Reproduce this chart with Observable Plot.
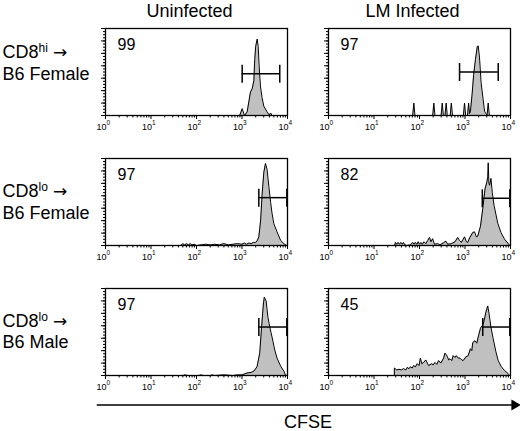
<!DOCTYPE html>
<html>
<head>
<meta charset="utf-8">
<script src="https://cdn.jsdelivr.net/npm/d3@7"></script>
<script src="https://cdn.jsdelivr.net/npm/@observablehq/plot@0.6"></script>
<style>
  body { margin: 0; background: #fff; }
  #chart { width: 520px; height: 431px; }
</style>
</head>
<body>
<div id="chart"></div>
<script>
// ---- categories ----
const columns = ["Uninfected", "LM Infected"];
const rowLabels = ["CD8hi →\nB6 Female", "CD8lo →\nB6 Female", "CD8lo →\nB6 Male"];

// ---- per-panel values (row-major: r1c1, r1c2, r2c1, r2c2, r3c1, r3c2) ----
const percents = [99, 97, 97, 82, 97, 45];
const gateLowLog = [3.004, 2.88, 3.37, 3.38, 3.37, 3.39];   // log10 CFSE
const gateHighLog = [3.83, 3.73, 3.985, 3.985, 3.985, 3.985];
const gateCount = [67, 70, 77, 76, 78, 78];

// ---- histograms: [log10 CFSE, events] ----
const histHiFemaleUninf = [[2.95,0],[3.004,11],[3.055,0],[3.114,6],[3.15,22],[3.187,38],[3.224,43],[3.26,56],[3.28,90],[3.30,111],[3.334,123],[3.356,111],[3.378,78],[3.407,46],[3.44,29],[3.48,15],[3.55,6],[3.60,1],[3.63,4],[3.66,0]];
const histHiFemaleLM = [[1.85,0],[1.876,20],[1.90,0],[2.29,0],[2.315,20],[2.34,0],[2.475,0],[2.50,20],[2.525,0],[2.56,0],[2.587,20],[2.61,0],[2.675,0],[2.70,20],[2.725,0],[2.965,0],[2.99,20],[3.015,0],[3.055,0],[3.08,20],[3.10,3],[3.12,7],[3.158,36],[3.19,66],[3.23,90],[3.27,111],[3.29,112],[3.318,94],[3.355,52],[3.40,25],[3.43,7],[3.46,3],[3.485,0],[3.51,20],[3.535,0]];
const histLoFemaleUninf = [[1.65,0],[1.70,3],[1.74,1],[1.78,3],[1.82,1],[1.86,3],[1.90,1],[1.95,2],[2.0,0],[2.1,1],[2.2,2],[2.3,1],[2.4,2],[2.5,1],[2.6,3],[2.7,1],[2.8,2],[2.9,3],[3.0,2],[3.05,4],[3.1,2],[3.15,4],[3.2,3],[3.25,5],[3.30,5],[3.33,7],[3.37,14],[3.41,41],[3.44,80],[3.48,118],[3.516,132],[3.55,123],[3.59,95],[3.63,69],[3.66,52],[3.70,35],[3.77,22],[3.85,8],[3.92,3],[3.98,0]];
const histLoFemaleLM = [[1.455,0],[1.47,5],[1.50,2],[1.53,5],[1.56,2],[1.59,5],[1.62,2],[1.65,5],[1.68,1],[1.72,0],[1.80,1],[1.85,5],[1.88,2],[1.91,5],[1.94,2],[1.97,6],[2.0,2],[2.03,5],[2.06,2],[2.10,6],[2.14,3],[2.18,8],[2.22,13],[2.25,6],[2.29,11],[2.33,2],[2.40,3],[2.45,1],[2.52,4],[2.58,7],[2.62,2],[2.70,3],[2.78,6],[2.84,13],[2.88,8],[2.92,5],[2.96,10],[2.99,14],[3.03,6],[3.06,5],[3.10,12],[3.17,21],[3.21,22],[3.25,14],[3.28,15],[3.34,31],[3.39,59],[3.44,91],[3.48,102],[3.50,110],[3.51,133],[3.525,100],[3.54,97],[3.57,108],[3.60,85],[3.64,64],[3.72,36],[3.79,21],[3.87,10],[3.94,4],[3.98,0]];
const histLoMaleUninf = [[1.70,0],[1.75,1],[1.80,0],[2.05,0],[2.1,1],[2.15,0],[2.3,0],[2.35,1],[2.4,0],[2.6,1],[2.8,0],[2.9,1],[3.0,1],[3.11,4],[3.2,5],[3.26,7],[3.33,14],[3.39,36],[3.43,78],[3.47,115],[3.49,126],[3.53,120],[3.57,94],[3.61,78],[3.66,62],[3.72,41],[3.77,28],[3.85,15],[3.92,7],[3.96,0]];
const histLoMaleLM = [[1.447,0],[1.448,12],[1.50,9],[1.55,10],[1.60,9],[1.65,11],[1.70,9],[1.73,13],[1.77,11],[1.80,14],[1.84,12],[1.87,16],[1.91,14],[1.95,19],[1.99,16],[2.02,28],[2.05,19],[2.09,21],[2.14,25],[2.20,16],[2.27,19],[2.30,17],[2.34,21],[2.38,18],[2.42,24],[2.47,20],[2.53,28],[2.56,36],[2.61,31],[2.64,25],[2.67,27],[2.71,24],[2.74,32],[2.78,29],[2.81,32],[2.85,28],[2.89,28],[2.93,25],[2.96,24],[3.02,30],[3.07,32],[3.12,43],[3.15,40],[3.17,53],[3.22,56],[3.26,52],[3.29,62],[3.34,76],[3.39,81],[3.42,88],[3.46,102],[3.50,112],[3.53,99],[3.57,78],[3.62,59],[3.68,38],[3.73,24],[3.80,14],[3.87,8],[3.95,3],[3.98,0]];
const histograms = [histHiFemaleUninf, histHiFemaleLM, histLoFemaleUninf, histLoFemaleLM, histLoMaleUninf, histLoMaleLM];

// ---- axis ticks ----
const decadeExponents = [0, 1, 2, 3, 4];
const minorMultipliers = [2, 3, 4, 5, 6, 7, 8, 9];
const yMajorTicks = [0, 20, 40, 60, 80, 100, 120, 140];
const yMinorTicks = d3.range(0, 141, 5);

// ---- build tables ----
const panels = [];
rowLabels.forEach((r, i) => columns.forEach((c, j) => {
  const k = i * 2 + j;
  panels.push({row: r, col: c, pct: percents[k], lo: 10 ** gateLowLog[k], hi: 10 ** gateHighLog[k], gy: gateCount[k], hist: histograms[k]});
}));
const histRows = panels.flatMap(p => p.hist.map(([lx, n]) => ({row: p.row, col: p.col, x: 10 ** lx, y: n})));
const gateEnds = panels.flatMap(p => [{row: p.row, col: p.col, x: p.lo, y: p.gy}, {row: p.row, col: p.col, x: p.hi, y: p.gy}]);
const majorX = decadeExponents.map(e => 10 ** e);
const minorX = decadeExponents.slice(0, 4).flatMap(e => minorMultipliers.map(m => m * 10 ** e));

const capSymbol = {draw(ctx, size) { const h = Math.sqrt(size / Math.PI); ctx.moveTo(0, -h); ctx.lineTo(0, h); }};
const rowLabelDy = [-10, -1, -1.5];
const noText = () => "";

const svg = Plot.plot({
  width: 520,
  height: 431,
  marginLeft: 105,
  marginRight: 10,
  marginTop: 27,
  marginBottom: 55,
  style: {fontFamily: "'Liberation Sans', Arial, Helvetica, sans-serif", color: "black", background: "white", overflow: "visible"},
  fx: {domain: columns, paddingInner: 0.184, paddingOuter: 0, axis: null, label: null},
  fy: {domain: rowLabels, paddingInner: 0.33, paddingOuter: 0, axis: null, label: null},
  x: {type: "log", domain: [1, 1e4]},
  y: {domain: [0, 140]},
  marks: [
    Plot.areaY(histRows, {x: "x", y: "y", fx: "col", fy: "row", fill: "#c0c0c0", curve: "linear"}),
    Plot.lineY(histRows, {x: "x", y: "y", fx: "col", fy: "row", stroke: "black", strokeWidth: 1, curve: "linear"}),
    Plot.axisX({ticks: majorX, tickSize: 4, tickFormat: noText, facetAnchor: null, label: null}),
    Plot.axisX({ticks: minorX, tickSize: 2.5, tickFormat: noText, facetAnchor: null, label: null}),
    Plot.axisY({ticks: yMajorTicks, tickSize: 4, tickFormat: noText, facetAnchor: null, label: null}),
    Plot.axisY({ticks: yMinorTicks, tickSize: 2, tickFormat: noText, facetAnchor: null, label: null}),
    Plot.text(decadeExponents, {x: e => 10 ** e, text: () => "10", frameAnchor: "bottom", dy: 14.5, dx: 1, textAnchor: "end", lineAnchor: "bottom", fontSize: 9}),
    Plot.text(decadeExponents, {x: e => 10 ** e, text: e => String(e), frameAnchor: "bottom", dy: 9.5, dx: 1, textAnchor: "start", lineAnchor: "bottom", fontSize: 6.5}),
    Plot.frame({stroke: "black", strokeWidth: 1.3}),
    Plot.ruleY(panels, {fx: "col", fy: "row", y: "gy", x1: "lo", x2: "hi", stroke: "black", strokeWidth: 1.5}),
    Plot.dot(gateEnds, {fx: "col", fy: "row", x: "x", y: "y", symbol: capSymbol, r: 9, stroke: "black", strokeWidth: 1.5, fill: "none"}),
    Plot.text(panels, {fx: "col", fy: "row", text: d => String(d.pct), frameAnchor: "top-left", dx: 12, dy: 21, textAnchor: "start", lineAnchor: "bottom", fontSize: 16}),
    Plot.text(columns, {fx: d => d, fy: () => rowLabels[0], text: d => d, frameAnchor: "top", dy: -12, dx: -7, lineAnchor: "bottom", fontSize: 18}),
    ...rowLabels.map((r, i) => Plot.text([r], {fx: () => columns[0], fy: d => d, text: d => d, frameAnchor: "left", dx: -103, dy: rowLabelDy[i], textAnchor: "start", lineAnchor: "middle", lineHeight: 1.2, fontSize: 18})),
    Plot.frame({facet: "super", anchor: "bottom", dy: 29.5, insetLeft: -8, insetRight: -3, stroke: "black", strokeWidth: 1.5}),
    Plot.dot([0], {facet: "super", frameAnchor: "bottom-right", dx: 4, dy: 29.5, symbol: "triangle", r: 4, fill: "black", stroke: "none", rotate: 90}),
    Plot.text(["CFSE"], {facet: "super", frameAnchor: "bottom", dy: 52, text: d => d, lineAnchor: "bottom", fontSize: 18})
  ]
});

// superscripts in the row labels (hi / lo) and a full-size arrow glyph
d3.select(svg).selectAll("tspan").each(function () {
  const m = this.textContent.match(/^CD8(hi|lo) (→)$/);
  if (!m) return;
  const t = d3.select(this).text("CD8");
  t.append("tspan").attr("dy", -6).attr("font-size", 12).text(m[1]);
  t.append("tspan").attr("dy", 6).text(" ");
  t.append("tspan").attr("font-family", "'DejaVu Sans', sans-serif").attr("font-size", 17).text(m[2]);
});

document.getElementById("chart").appendChild(svg);
</script>
</body>
</html>
